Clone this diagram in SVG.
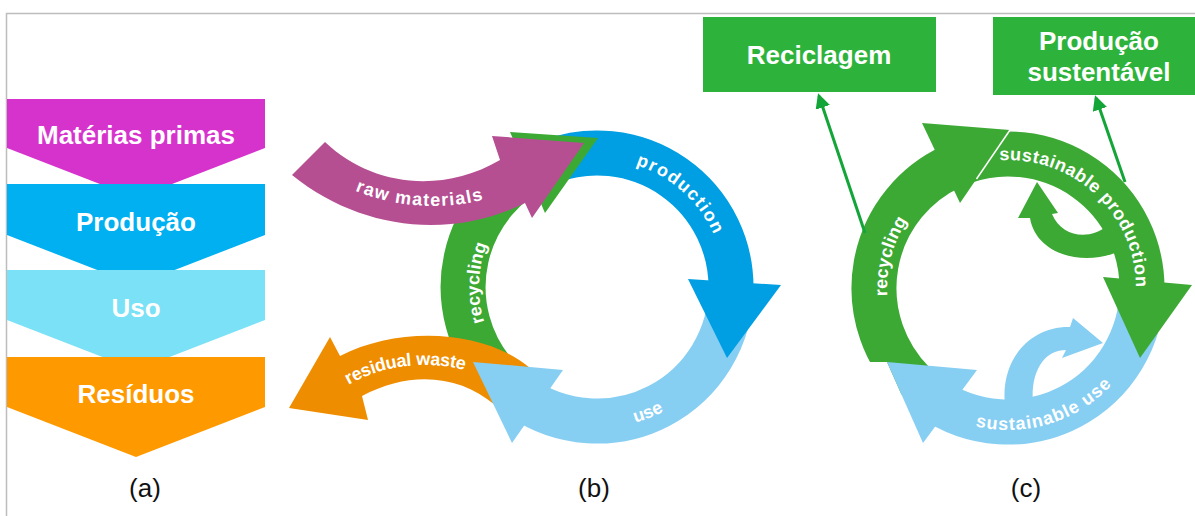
<svg xmlns="http://www.w3.org/2000/svg" width="1195" height="516" viewBox="0 0 1195 516">
<style>
.lbl{font-family:"Liberation Sans",Arial,sans-serif;font-weight:bold;fill:#fff;text-anchor:middle}
.cap{font-family:"Liberation Sans",Arial,sans-serif;font-size:26px;fill:#111;text-anchor:middle}
.arc{font-family:"Liberation Sans",Arial,sans-serif;font-weight:bold;fill:#fff;font-size:18px}
.band{fill:none;stroke-width:45}
.g{fill:#3DA935}.gs{stroke:#3DA935}
.b{fill:#009EE2}.bs{stroke:#009EE2}
.lb{fill:#87CEF3}.lbs{stroke:#87CEF3}
.box{fill:#2DB33C}
.conn{stroke:#13A538;stroke-width:3;fill:none}
</style>
<defs>
<marker id="ah" viewBox="0 0 10 10" refX="8" refY="5" markerWidth="5" markerHeight="5" orient="auto" markerUnits="strokeWidth">
<path d="M0,0 L10,5 L0,10 z" fill="#13A538"/>
</marker>
<clipPath id="clip-rec2">
<polygon points="0,0 1195,0 1195,516 955.4,516 887,362 0,362"/>
</clipPath>
<path id="tp-raw" d="M 308 158 C 365 200, 445 215, 515 182"/>
<path id="tp-prod" d="M 601.5 159.1 A 128 128 0 0 1 723.8 269.2"/>
<path id="tp-use" d="M 553.4 421.1 A 141 141 0 0 0 721.5 353.2"/>
<path id="tp-rec" d="M 494.8 346 A 118 118 0 0 1 499.2 221"/>
<path id="tp-res" d="M 330 390 C 380 352, 450 350, 500 378"/>
<path id="tp-sprod" d="M 992.4 161 A 128 128 0 0 1 1135.8 294.7"/>
<path id="tp-suse" d="M 952.5 418.7 A 142 142 0 0 0 1127.1 365.3"/>
<path id="tp-rec2" d="M 894.3 329.4 A 121 121 0 0 1 930.2 195.3"/>
</defs>

<rect width="1195" height="516" fill="#fff"/>
<path d="M6.5 516 V13.5 H1195" stroke="#BDBDBD" stroke-width="1.5" fill="none"/>

<!-- (a) -->
<g id="node-materias">
<polygon points="7,99 265,99 265,148 136,198 7,148" fill="#D633CC"/>
<text class="lbl" x="136" y="144" font-size="26">Matérias primas</text>
</g>
<g id="node-producao">
<polygon points="7,184 265,184 265,235 136,285 7,235" fill="#00B0F0"/>
<text class="lbl" x="136" y="231" font-size="26">Produção</text>
</g>
<g id="node-uso">
<polygon points="7,270 265,270 265,320 136,370 7,320" fill="#7AE1F6"/>
<text class="lbl" x="136" y="317" font-size="26">Uso</text>
</g>
<g id="node-residuos">
<polygon points="7,357 265,357 265,407 136,457 7,407" fill="#FF9900"/>
<text class="lbl" x="136" y="403" font-size="26">Resíduos</text>
</g>
<text class="cap" x="145" y="497">(a)</text>

<!-- (b) -->
<g id="b-production-arc"><path class="band bs" d="M 551.2 161.1 A 134 134 0 0 1 731 287"/></g>
<g id="b-recycling">
<path class="band gs" d="M 494.4 373.1 A 134 134 0 0 1 540.4 165.6"/>
<polygon class="g" points="510,132 598,138 545,213"/>
</g>
<g id="b-residual">
<path fill="#EF8D00" d="M 530 368 C 485 330, 400 325, 340 356 L 330 337 L 289 408 L 368 420 L 362 396 C 410 370, 460 375, 495 405 Z"/>
</g>
<g id="b-use">
<path class="band lbs" d="M 731 287 A 134 134 0 0 1 520.1 396.8"/>
<polygon class="lb" points="473,362 563,370 512,443"/>
</g>
<g id="b-production-head"><polygon class="b" points="688,279 781,285 727,358"/></g>
<g id="b-raw">
<path fill="#B54F92" d="M 325 142 C 370 185, 440 195, 500 160 L 492 136 L 584 143 L 532 218 L 525 203 C 450 240, 360 230, 292 175 Z"/>
</g>
<g id="b-texts">
<text class="arc" letter-spacing="1" dy="6"><textPath href="#tp-raw" startOffset="55%" text-anchor="middle">raw materials</textPath></text>
<text class="arc" letter-spacing="1.5"><textPath href="#tp-prod" startOffset="50%" text-anchor="middle">production</textPath></text>
<text class="arc"><textPath href="#tp-use" startOffset="50%" text-anchor="middle">use</textPath></text>
<text class="arc"><textPath href="#tp-rec" startOffset="50%" text-anchor="middle">recycling</textPath></text>
<text class="arc" dy="6"><textPath href="#tp-res" startOffset="45%" text-anchor="middle">residual waste</textPath></text>
</g>
<text class="cap" x="594" y="497">(b)</text>

<!-- (c) -->
<g id="c-use">
<path class="band lbs" d="M 1142 288 A 134 134 0 0 1 931.1 397.8"/>
<path class="lb" d="M 1005 405 C 1000 360, 1030 326, 1070 327 L 1073 318 L 1103 343 L 1062 358 L 1066 350 C 1045 350, 1030 370, 1033 405 Z"/>
</g>
<g id="c-recycling-arc"><path class="band gs" clip-path="url(#clip-rec2)" d="M 913.2 382.8 A 134 134 0 0 1 951.4 166.6"/></g>
<g id="c-production">
<path class="band gs" d="M 962.2 162.1 A 134 134 0 0 1 1142 288"/>
<path class="g" d="M 1107 226 C 1090 240, 1062 238, 1052 214 L 1058 213 L 1037 182 L 1018 218 L 1030 218 C 1036 255, 1085 268, 1122 250 Z"/>
</g>
<g id="c-recycling-head">
<polygon class="g" points="922,123 1010,130 960,203"/>
<line x1="1010" y1="130" x2="976.5" y2="179" stroke="#fff" stroke-width="1.5"/>
</g>
<g id="c-production-head"><polygon class="g" points="1103,277 1192,285 1140,358"/></g>
<g id="c-use-head"><polygon class="lb" points="887,362 977,370 923,443"/></g>
<g id="c-texts">
<text class="arc" font-size="17" letter-spacing="0.5"><textPath href="#tp-sprod" startOffset="50%" text-anchor="middle">sustainable production</textPath></text>
<text class="arc" letter-spacing="1"><textPath href="#tp-suse" startOffset="50%" text-anchor="middle">sustainable use</textPath></text>
<text class="arc"><textPath href="#tp-rec2" startOffset="50%" text-anchor="middle">recycling</textPath></text>
</g>

<g id="node-reciclagem">
<rect class="box" x="703" y="17" width="233" height="75"/>
<text class="lbl" x="819" y="64" font-size="26">Reciclagem</text>
</g>
<g id="node-producao-sustentavel">
<rect class="box" x="993" y="17" width="202" height="78"/>
<text class="lbl" x="1099" y="50" font-size="26">Produção</text>
<text class="lbl" x="1099" y="81" font-size="26">sustentável</text>
</g>
<g id="connectors">
<line class="conn" x1="865" y1="233" x2="819" y2="96" marker-end="url(#ah)"/>
<line class="conn" x1="1125" y1="182" x2="1096" y2="98" marker-end="url(#ah)"/>
</g>
<text class="cap" x="1026" y="497">(c)</text>
</svg>
